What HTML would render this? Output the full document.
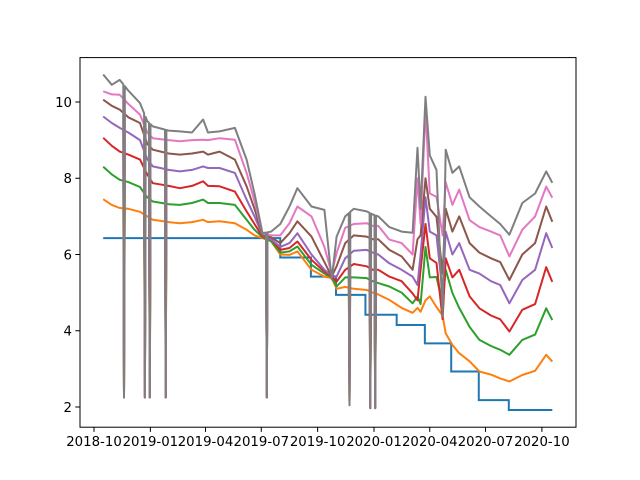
<!DOCTYPE html>
<html><head><meta charset="utf-8"><style>
html,body{margin:0;padding:0;background:#fff;}
svg{display:block;font-family:"DejaVu Sans","Liberation Sans",sans-serif;}
</style></head><body>
<svg id="chart" width="640" height="480" viewBox="0 0 640 480"></svg>
<script>
const stepDates=["2018-10-16","2019-08-01","2019-09-20","2019-10-31","2019-12-18","2020-02-07","2020-03-24","2020-05-06","2020-06-20","2020-08-08","2020-10-18"];
const stepValues=[6.43,5.92,5.42,4.94,4.42,4.15,3.67,2.93,2.18,1.92,1.92];
const dates=["2018-10-16","2018-10-30","2018-11-12","2018-11-26","2018-12-15","2018-12-27","2019-01-05","2019-01-31","2019-02-18","2019-03-10","2019-03-28","2019-04-05","2019-04-24","2019-05-19","2019-06-07","2019-06-20","2019-07-03","2019-07-17","2019-08-01","2019-08-16","2019-08-29","2019-09-21","2019-10-12","2019-10-24","2019-11-01","2019-11-15","2019-11-29","2019-12-20","2019-12-30","2020-01-08","2020-01-26","2020-02-15","2020-03-04","2020-03-12","2020-03-17","2020-03-25","2020-04-01","2020-04-12","2020-04-22","2020-04-27","2020-05-08","2020-05-19","2020-06-05","2020-06-21","2020-07-10","2020-07-25","2020-08-09","2020-08-30","2020-09-20","2020-10-08","2020-10-18"];
const orange=[7.45,7.3,7.22,7.2,7.12,7.0,6.91,6.85,6.82,6.85,6.91,6.85,6.87,6.82,6.65,6.5,6.43,6.35,6.0,5.99,6.08,5.6,5.42,5.38,5.1,5.15,5.1,5.07,5.0,4.95,4.81,4.6,4.47,4.6,4.5,4.8,4.9,4.62,4.4,3.93,3.63,3.41,3.2,2.93,2.85,2.75,2.67,2.84,2.95,3.37,3.19];
const green=[8.3,8.1,7.96,7.9,7.77,7.5,7.39,7.32,7.3,7.35,7.44,7.35,7.35,7.3,6.91,6.65,6.45,6.35,6.05,6.08,6.21,5.73,5.5,5.4,5.16,5.4,5.4,5.38,5.3,5.25,5.16,5.0,4.72,4.9,4.7,6.2,5.4,5.41,4.7,5.6,4.99,4.6,4.1,3.76,3.6,3.5,3.37,3.76,3.9,4.59,4.28];
const red=[9.06,8.85,8.7,8.62,8.49,8.1,7.87,7.8,7.74,7.8,7.92,7.8,7.79,7.65,7.13,6.8,6.47,6.4,6.12,6.17,6.34,5.86,5.55,5.42,5.29,5.6,5.75,5.69,5.6,5.6,5.42,5.3,4.98,4.8,5.6,6.8,5.9,5.78,4.3,5.9,5.4,5.6,4.9,4.59,4.4,4.3,3.98,4.55,4.7,5.67,5.28];
const purple=[9.62,9.45,9.32,9.2,9.0,8.5,8.31,8.22,8.18,8.22,8.31,8.27,8.27,8.14,7.44,7.0,6.5,6.4,6.2,6.3,6.56,6.0,5.6,5.45,5.42,5.9,6.1,6.12,6.05,6.0,5.77,5.6,5.42,5.2,6.0,7.5,6.6,6.5,5.0,6.6,6.0,6.3,5.6,5.5,5.3,5.2,4.72,5.33,5.6,6.56,6.17];
const brown=[10.06,9.9,9.8,9.6,9.45,8.9,8.75,8.65,8.62,8.65,8.7,8.62,8.7,8.49,7.79,7.2,6.52,6.45,6.3,6.56,6.87,6.47,5.8,5.42,5.69,6.3,6.5,6.47,6.4,6.4,6.12,5.95,5.6,6.4,6.5,8.0,7.2,6.99,5.5,7.2,6.6,7.0,6.3,6.05,5.9,5.8,5.33,6.0,6.3,7.26,6.86];
const pink=[10.28,10.2,10.19,9.95,9.67,9.2,9.05,9.0,8.97,9.0,9.01,9.0,9.05,9.01,8.14,7.4,6.55,6.5,6.5,6.82,7.26,7.0,6.2,5.5,6.04,6.7,6.8,6.82,6.75,6.75,6.39,6.3,6.0,8.0,6.8,9.8,7.6,7.51,6.5,7.9,7.3,7.7,6.9,6.72,6.6,6.5,5.95,6.65,7.0,7.78,7.49];
const gray=[10.72,10.45,10.58,10.3,9.97,9.5,9.36,9.25,9.23,9.2,9.54,9.2,9.23,9.32,8.49,7.6,6.56,6.6,6.8,7.26,7.74,7.26,7.17,5.35,6.47,7.0,7.2,7.13,7.05,7.0,6.72,6.6,6.57,8.8,7.2,10.14,8.6,8.22,4.37,8.75,8.14,8.31,7.5,7.26,7.0,6.8,6.52,7.35,7.6,8.18,7.88];
const dropDates=["2018-11-19","2018-12-23","2018-12-31","2019-01-26","2019-07-10","2019-11-22","2019-12-26","2020-01-03"];
const dropValues=[2.25,2.25,2.25,2.25,2.25,2.05,1.97,1.97];
const yTicks=[2,4,6,8,10];
const xTicks=["2018-10-01","2019-01-01","2019-04-01","2019-07-01","2019-10-01","2020-01-01","2020-04-01","2020-07-01","2020-10-01"];
const xTickLabels=["2018-10","2019-01","2019-04","2019-07","2019-10","2020-01","2020-04","2020-07","2020-10"];

const NS="http://www.w3.org/2000/svg";
const svg=document.getElementById('chart');
const L=80,R=576,T=57.6,B=427.2;
const t0=Date.parse("2018-10-01"), day=86400000;
function tday(d){return (Date.parse(d)-t0)/day;}
function xt(t){return 94+t*0.6127;}
function xs(d){return xt(tday(d));}
function ys(v){return 407-(v-2)*38.125;}
function mk(tag,attrs){const e=document.createElementNS(NS,tag);for(const k in attrs)e.setAttribute(k,attrs[k]);svg.appendChild(e);return e;}

const clip=document.createElementNS(NS,'clipPath');clip.setAttribute('id','pc');
const cr=document.createElementNS(NS,'rect');cr.setAttribute('x',L);cr.setAttribute('y',T);cr.setAttribute('width',R-L);cr.setAttribute('height',B-T);
clip.appendChild(cr);svg.appendChild(clip);

let sp='';
for(let i=0;i<stepDates.length;i++){
  const x=xs(stepDates[i]),y=ys(stepValues[i]);
  if(i===0)sp+='M'+x+' '+y;else sp+=' L'+x+' '+ys(stepValues[i-1])+' L'+x+' '+y;
}
const blue=mk('path',{d:sp,fill:'none',stroke:'#1f77b4','stroke-width':2,'clip-path':'url(#pc)'});



function interp(vals,t){
  const ts=dates.map(tday);
  for(let i=1;i<ts.length;i++){if(t<=ts[i]){const f=(t-ts[i-1])/(ts[i]-ts[i-1]);return vals[i-1]+f*(vals[i]-vals[i-1]);}}
  return vals[vals.length-1];
}
const series=[["series-2",orange,'#ff7f0e'],["series-3",green,'#2ca02c'],["series-4",red,'#d62728'],["series-5",purple,'#9467bd'],["series-6",brown,'#8c564b'],["series-7",pink,'#e377c2'],["series-8",gray,'#7f7f7f']];
series.forEach(s=>{
  const vals=s[1];
  let pts=dates.map((d,i)=>[tday(d),vals[i]]);
  dropDates.forEach((d,j)=>{
    const t=tday(d);
    pts.push([t-1.2,interp(vals,t-1.2)],[t,dropValues[j]],[t+1.2,interp(vals,t+1.2)]);
  });
  pts.sort((a,b)=>a[0]-b[0]);
  const dstr=pts.map((p,i)=>(i?'L':'M')+xt(p[0]).toFixed(1)+' '+ys(p[1]).toFixed(1)).join(' ');
  const p=mk('path',{d:dstr,fill:'none',stroke:s[2],'stroke-width':2,'stroke-linejoin':'round','clip-path':'url(#pc)'});
  
  
});

const frame=mk('rect',{x:L,y:T,width:R-L,height:B-T,fill:'none',stroke:'#000','stroke-width':1});



yTicks.forEach(v=>{
  const y=ys(v);
  const tk=mk('line',{x1:L-4.7,x2:L,y1:y,y2:y,stroke:'#000','stroke-width':1});
  
  
  const tx=mk('text',{x:L-8,y:y+4.8,'text-anchor':'end','font-size':13.3,fill:'#000'});
  tx.textContent=v;
  
  
});
xTicks.forEach((d,i)=>{
  const x=xs(d);
  const tk=mk('line',{x1:x,x2:x,y1:B,y2:B+4.7,stroke:'#000','stroke-width':1});
  
  
  const tx=mk('text',{x:x,y:B+19,'text-anchor':'middle','font-size':13.3,fill:'#000'});
  tx.textContent=xTickLabels[i];
  
  
});
</script>
</body></html>
